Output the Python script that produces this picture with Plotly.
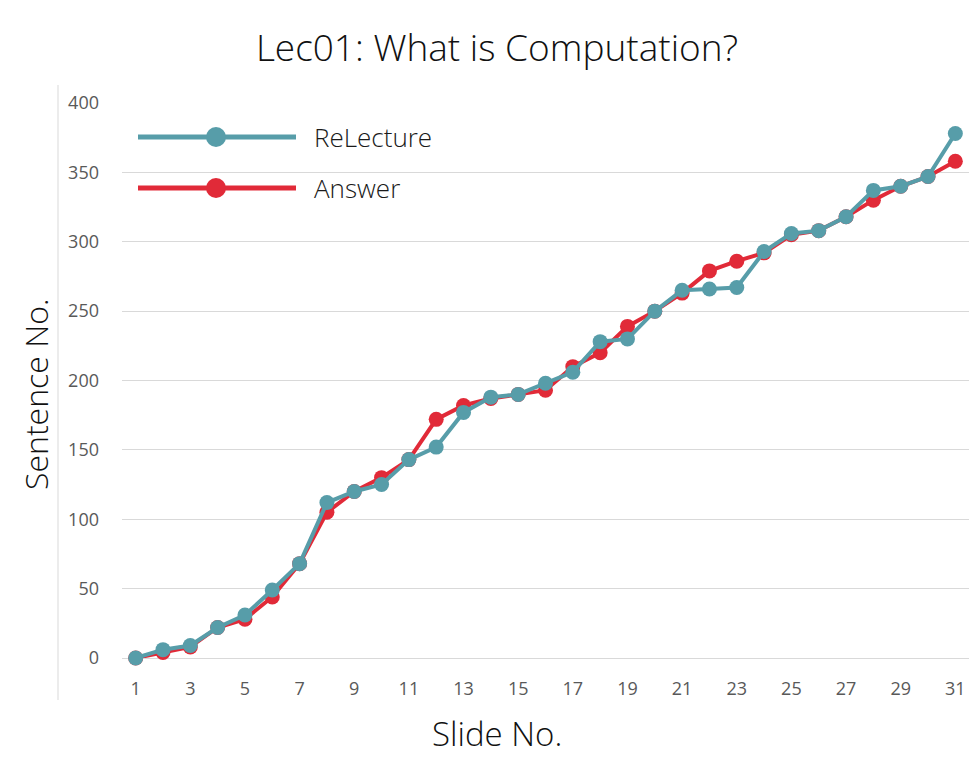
import plotly.graph_objects as go

slides = list(range(1, 32))
relecture = [0, 6, 9, 22, 31, 49, 68, 112, 120, 125, 143, 152, 177, 188, 190, 198, 206, 228, 230, 250,
             265, 266, 267, 293, 306, 308, 318, 337, 340, 347, 378]
answer = [0, 4, 8, 22, 28, 44, 68, 105, 120, 130, 143, 172, 182, 187, 190, 193, 210, 220, 239, 250,
          263, 279, 286, 292, 305, 308, 318, 330, 340, 347, 358]
series_names = ["ReLecture", "Answer"]
x_ticks = list(range(1, 32, 2))
y_ticks = list(range(0, 401, 50))

TEAL = "#579DA9"
RED = "#E12A38"
FONT = "Open Sans"

fig = go.Figure()
fig.add_trace(go.Scatter(x=slides, y=answer, name=series_names[1], mode="lines+markers",
                         line=dict(color=RED, width=4), marker=dict(color=RED, size=15),
                         cliponaxis=False, showlegend=False))
fig.add_trace(go.Scatter(x=slides, y=relecture, name=series_names[0], mode="lines+markers",
                         line=dict(color=TEAL, width=4), marker=dict(color=TEAL, size=15),
                         cliponaxis=False, showlegend=False))

# plot area in pixels: x 122..969, y 103..658
L, R, T, B = 122, 969, 103, 658
W, H = R - L, B - T
def px(x):
    return (x - L) / W
def py(y):
    return 1 - (y - T) / H

shapes = [dict(type="line", xref="paper", yref="paper", x0=px(58), x1=px(58), y0=py(85), y1=py(700),
               line=dict(color="#D9D9D9", width=1))]
annotations = []
for i, (nm, col) in enumerate(zip(series_names, [TEAL, RED])):
    yy = py(137 + 51 * i)
    shapes.append(dict(type="line", xref="paper", yref="paper", x0=px(138), x1=px(296), y0=yy, y1=yy,
                       line=dict(color=col, width=5)))
    shapes.append(dict(type="circle", xref="paper", yref="paper", xsizemode="pixel", ysizemode="pixel",
                       xanchor=px(216), yanchor=yy, x0=-10, x1=10, y0=-10, y1=10,
                       fillcolor=col, line=dict(color=col, width=0)))
    annotations.append(dict(xref="paper", yref="paper", x=px(312), y=yy, text=nm, showarrow=False,
                            xanchor="left", yanchor="middle",
                            font=dict(family=FONT, size=26, color="#1a1a1a", weight=300)))

# axis titles
annotations.append(dict(xref="paper", yref="paper", x=px(497), y=py(757), text="Slide No.", showarrow=False,
                        xanchor="center", yanchor="bottom", borderpad=0,
                        font=dict(family=FONT, size=33, color="#111111", weight=300)))
annotations.append(dict(xref="paper", yref="paper", x=px(35), y=py(394), text="Sentence No.", showarrow=False,
                        xanchor="center", yanchor="middle", textangle=-90,
                        font=dict(family=FONT, size=32, color="#111111", weight=300)))

fig.update_layout(
    width=970, height=759,
    margin=dict(l=L, r=970 - R, t=T, b=759 - B),
    paper_bgcolor="white", plot_bgcolor="white",
    title=dict(text="Lec01: What is Computation?", x=497 / 970, xanchor="center", y=1 - 48 / 759,
               yanchor="middle", font=dict(family=FONT, size=37, color="#111111", weight=300)),
    xaxis=dict(range=[0.5, 31.5], tickvals=x_ticks, ticktext=[str(v) for v in x_ticks],
               showgrid=False, zeroline=False, showline=False, ticks="",
               ticklabelstandoff=18,
               tickfont=dict(family=FONT, size=18, color="#595959")),
    yaxis=dict(range=[0, 400], tickvals=y_ticks, showgrid=True, gridcolor="#D9D9D9", gridwidth=1,
               zeroline=True, zerolinecolor="#D9D9D9", zerolinewidth=1, showline=False, ticks="",
               ticklabelstandoff=22,
               tickfont=dict(family=FONT, size=18, color="#595959")),
    shapes=shapes, annotations=annotations,
)
fig.write_html("out.html", config={"displayModeBar": False},
               post_script="document.body.style.margin='0';document.body.style.overflow='hidden';")
